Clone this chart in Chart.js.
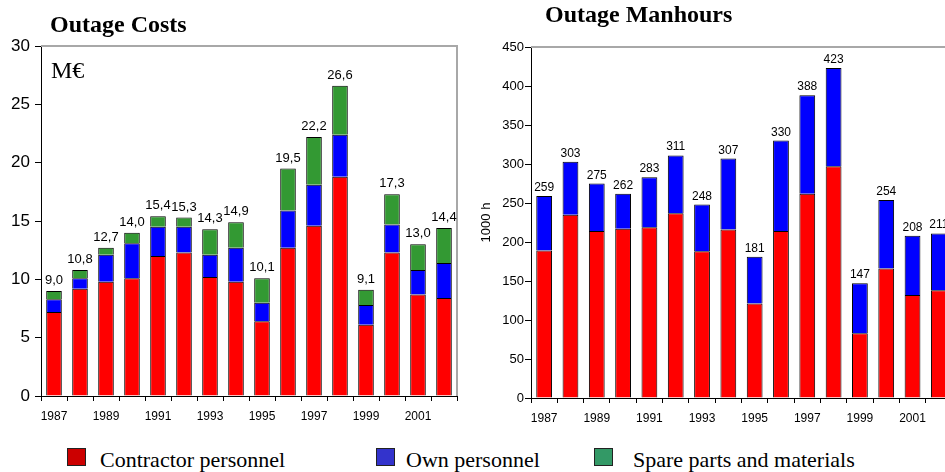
<!DOCTYPE html>
<html>
<head>
<meta charset="utf-8">
<script src="https://cdn.jsdelivr.net/npm/chart.js@4.4.1/dist/chart.umd.min.js"></script>
<style>
  html, body { margin: 0; padding: 0; background: #fff; overflow: hidden; }
  body { width: 945px; height: 472px; position: relative; }
  canvas { position: absolute; top: 0; }
  .txt { position: absolute; white-space: nowrap; font-family: "Liberation Serif", "Times New Roman", serif; color: #000; }
  .title { font-weight: bold; font-size: 24px; line-height: 24px; }
  .unit { font-size: 24px; line-height: 24px; }
  .legend { font-size: 22px; line-height: 22px; top: 449px; }
  .swatch { position: absolute; top: 448px; width: 17px; height: 16px; border: 1px solid #222; }
</style>
</head>
<body>
<canvas id="costs" width="470" height="430" style="left:0"></canvas>
<canvas id="hours" width="490" height="430" style="left:475px"></canvas>

<div class="txt title" style="left:50px; top:12px">Outage Costs</div>
<div class="txt title" style="left:545px; top:2px">Outage Manhours</div>
<div class="txt unit" style="left:51px; top:58px">M€</div>

<div class="swatch" style="left:67px; background:#cc0000"></div>
<div class="txt legend" style="left:100px">Contractor personnel</div>
<div class="swatch" style="left:376px; background:#3333cc"></div>
<div class="txt legend" style="left:406px">Own personnel</div>
<div class="swatch" style="left:594px; background:#339966"></div>
<div class="txt legend" style="left:633px">Spare parts and materials</div>

<script>
// Values.
const years = ['1987', '1988', '1989', '1990', '1991', '1992', '1993', '1994',
               '1995', '1996', '1997', '1998', '1999', '2000', '2001', '2002'];
const shownYears = ['1987', '1989', '1991', '1993', '1995', '1997', '1999', '2001'];

// Outage costs, M€
const costContractor = [7.2, 9.2, 9.8, 10.1, 12.0, 12.3, 10.2, 9.8, 6.4, 12.7, 14.6, 18.8, 6.1, 12.3, 8.7, 8.4];
const costOwn        = [1.1, 0.9, 2.3, 3.0, 2.5, 2.2, 1.9, 2.9, 1.6, 3.2, 3.5, 3.6, 1.7, 2.4, 2.1, 3.0];
const costSpares     = [0.7, 0.7, 0.6, 0.9, 0.9, 0.8, 2.2, 2.2, 2.1, 3.6, 4.1, 4.2, 1.3, 2.6, 2.2, 3.0];
const costTotals     = [9.0, 10.8, 12.7, 14.0, 15.4, 15.3, 14.3, 14.9, 10.1, 19.5, 22.2, 26.6, 9.1, 17.3, 13.0, 14.4];

// Outage manhours, 1000 h
const hoursContractor = [189, 235, 214, 217, 219, 237, 188, 216, 121, 214, 262, 297, 83, 166, 132, 138];
const hoursOwn        = [70, 68, 61, 45, 64, 74, 60, 91, 60, 116, 126, 126, 64, 88, 76, 73];
const hoursTotals     = [259, 303, 275, 262, 283, 311, 248, 307, 181, 330, 388, 423, 147, 254, 208, 211];

const RED = '#ff0000';
const BLUE = '#0000ff';
const GREEN = '#339933';
const SANS = '"Liberation Sans", Arial, sans-serif';

// Gray frame on the top and right side of the plot area.
const frame = {
  id: 'frame',
  beforeDatasetsDraw(chart) {
    const ctx = chart.ctx;
    const a = chart.chartArea;
    ctx.save();
    ctx.strokeStyle = '#a8a8a8';
    ctx.lineWidth = 2;
    ctx.beginPath();
    ctx.moveTo(a.left, a.top);
    ctx.lineTo(a.right, a.top);
    ctx.lineTo(a.right, a.bottom);
    ctx.stroke();
    ctx.restore();
  }
};

// Writes the stack total above each bar.
function totalLabels(texts, font, gap) {
  return {
    id: 'totalLabels',
    afterDatasetsDraw(chart) {
      const ctx = chart.ctx;
      const meta = chart.getDatasetMeta(chart.data.datasets.length - 1);
      ctx.save();
      ctx.font = font;
      ctx.fillStyle = '#000';
      ctx.textAlign = 'center';
      ctx.textBaseline = 'alphabetic';
      meta.data.forEach(function(bar, i) {
        ctx.fillText(texts[i], bar.x, bar.y - gap);
      });
      ctx.restore();
    }
  };
}

function yearTick(value) {
  const y = this.getLabelForValue(value);
  return shownYears.includes(y) ? y : '';
}

function xScale(height) {
  return {
    stacked: true,
    grid: {offset: true, drawOnChartArea: false, tickLength: 5, color: '#000'},
    border: {color: '#000'},
    ticks: {autoSkip: false, maxRotation: 0, minRotation: 0, padding: 8, color: '#000',
            font: {family: SANS, size: 12}, callback: yearTick},
    afterFit: function(s) { s.height = height; }
  };
}

const barStyle = {borderColor: '#000', borderWidth: 1, barPercentage: 0.6, categoryPercentage: 1};

new Chart(document.getElementById('costs'), {
  type: 'bar',
  data: {
    labels: years,
    datasets: [
      {label: 'Contractor personnel', data: costContractor, backgroundColor: RED},
      {label: 'Own personnel', data: costOwn, backgroundColor: BLUE},
      {label: 'Spare parts and materials', data: costSpares, backgroundColor: GREEN}
    ]
  },
  options: {
    responsive: false,
    animation: false,
    layout: {padding: {top: 46, right: 13, left: 0, bottom: 0}},
    datasets: {bar: barStyle},
    plugins: {legend: {display: false}, tooltip: {enabled: false}},
    scales: {
      x: xScale(34),
      y: {
        stacked: true, min: 0, max: 30,
        ticks: {stepSize: 5, padding: 5, color: '#000', font: {family: SANS, size: 17}},
        grid: {drawOnChartArea: false, tickLength: 6, color: '#000'},
        border: {color: '#000'},
        afterFit: function(s) { s.width = 41; }
      }
    }
  },
  plugins: [frame, totalLabels(costTotals.map(v => v.toFixed(1).replace('.', ',')), '13px ' + SANS, 7)]
});

new Chart(document.getElementById('hours'), {
  type: 'bar',
  data: {
    labels: years,
    datasets: [
      {label: 'Contractor personnel', data: hoursContractor, backgroundColor: RED},
      {label: 'Own personnel', data: hoursOwn, backgroundColor: BLUE}
    ]
  },
  options: {
    responsive: false,
    animation: false,
    layout: {padding: {top: 47, right: 13, left: 0, bottom: 0}},
    datasets: {bar: barStyle},
    plugins: {legend: {display: false}, tooltip: {enabled: false}},
    scales: {
      x: xScale(32),
      y: {
        stacked: true, min: 0, max: 450,
        title: {display: true, text: '1000 h', color: '#000', font: {family: SANS, size: 13}, padding: {top: 4, bottom: 0}},
        ticks: {stepSize: 50, padding: 1, color: '#000', font: {family: SANS, size: 13}},
        grid: {drawOnChartArea: false, tickLength: 6, color: '#000'},
        border: {color: '#000'},
        afterFit: function(s) { s.width = 56; }
      }
    }
  },
  plugins: [frame, totalLabels(hoursTotals.map(String), '12px ' + SANS, 5)]
});
</script>
</body>
</html>
